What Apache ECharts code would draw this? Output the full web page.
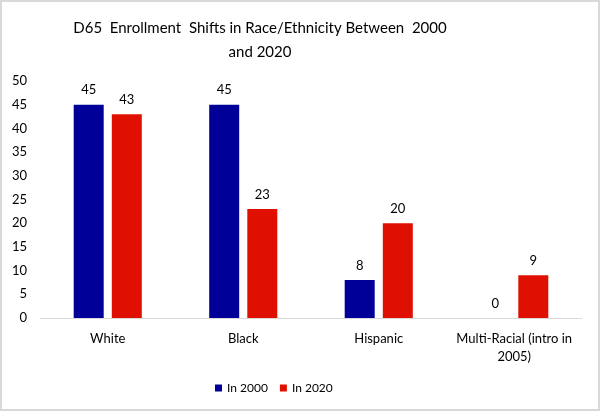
<!DOCTYPE html>
<html>
<head>
<meta charset="utf-8">
<script src="https://cdn.jsdelivr.net/npm/echarts@6/dist/echarts.min.js"></script>
<style>
  html, body { margin: 0; padding: 0; background: #fff; }
  #main { width: 600px; height: 411px; box-sizing: border-box; border: 2px solid #d9d9d9; }
</style>
</head>
<body>
<div id="main"></div>
<script>
var categories = ['White', 'Black', 'Hispanic', 'Multi-Racial (intro in\n2005)'];
var in2000 = [45, 45, 8, 0];
var in2020 = [43, 23, 20, 9];
var yTicks = { min: 0, max: 50, interval: 5 };

var chartDom = document.getElementById('main');
var myChart = echarts.init(chartDom);
var font = 'Lato, "Open Sans", sans-serif';
var option;

option = {
  textStyle: { fontFamily: font },
  title: {
    text: 'D65  Enrollment  Shifts in Race/Ethnicity Between  2000\nand 2020',
    left: 253,
    top: 9,
    textAlign: 'center',
    textStyle: { fontFamily: font, fontSize: 15, fontWeight: 'normal', color: '#000', lineHeight: 24, align: 'center' }
  },
  legend: {
    data: ['In 2000', 'In 2020'],
    left: 208,
    bottom: 10,
    itemWidth: 7,
    itemHeight: 7,
    itemGap: 12,
    icon: 'rect',
    textStyle: { fontFamily: font, fontSize: 12, color: '#000' }
  },
  grid: { left: 38, right: 16, top: 79, bottom: 91, containLabel: false },
  xAxis: {
    type: 'category',
    data: categories,
    axisLine: { lineStyle: { color: '#d9d9d9', width: 1 } },
    axisTick: { show: false },
    axisLabel: { color: '#000', fontSize: 13, fontFamily: font, margin: 12, lineHeight: 18, interval: 0 }
  },
  yAxis: {
    type: 'value',
    min: yTicks.min,
    max: yTicks.max,
    interval: yTicks.interval,
    splitLine: { show: false },
    axisLine: { show: false },
    axisTick: { show: false },
    axisLabel: { color: '#000', fontSize: 13, fontFamily: font, margin: 13 }
  },
  series: [
    {
      name: 'In 2000',
      type: 'bar',
      data: in2000,
      barWidth: 30,
      barGap: '27%',
      color: '#000099',
      label: { show: true, position: 'top', distance: 8, color: '#000', fontSize: 13, fontFamily: font }
    },
    {
      name: 'In 2020',
      type: 'bar',
      data: in2020,
      barWidth: 30,
      color: '#e01000',
      label: { show: true, position: 'top', distance: 8, color: '#000', fontSize: 13, fontFamily: font }
    }
  ]
};

option && myChart.setOption(option);
</script>
</body>
</html>
